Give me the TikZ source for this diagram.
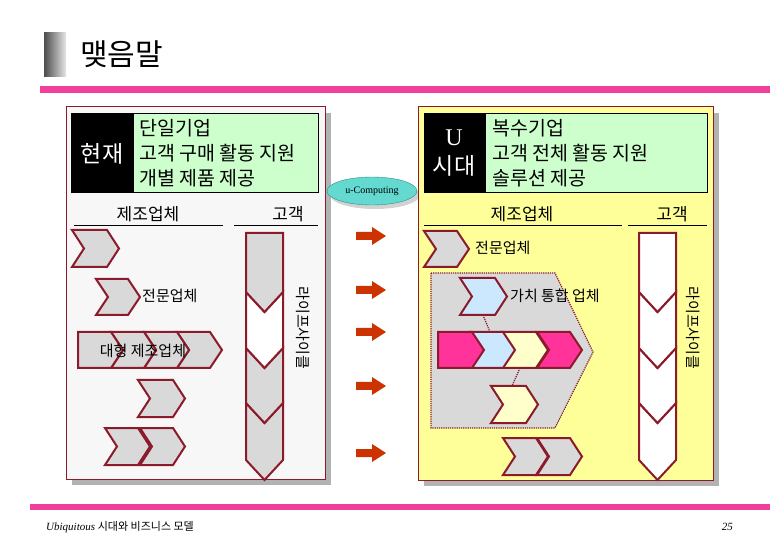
\documentclass[tikz,border=0pt]{standalone}
\usepackage{fontspec}
\setmainfont{Liberation Serif}
\newfontfamily\kr{Noto Sans CJK KR}
\usetikzlibrary{shapes.geometric}
\definecolor{dred}{HTML}{8B1A2B}
\definecolor{chgray}{HTML}{D9D9D9}
\definecolor{pinkline}{HTML}{F0409A}
\definecolor{mint}{HTML}{CCFFCC}
\definecolor{lyel}{HTML}{FFFF99}
\definecolor{cyanel}{HTML}{3CCFC4}
\definecolor{arr}{HTML}{CC3300}
\definecolor{lblue}{HTML}{CCE8FF}
\definecolor{cream}{HTML}{FFFFCC}
\definecolor{hpink}{HTML}{FF3399}
\tikzset{chevst/.style={draw=dred,line width=2pt,line join=miter},
  lbl/.style={font=\kr\fontsize{15}{17}\selectfont,inner sep=0pt},
  hdr/.style={font=\kr\fontsize{17}{19}\selectfont,inner sep=0pt},
  box/.style={font=\kr\fontsize{19.5}{25}\selectfont,align=left,anchor=west,inner sep=0pt},
  blk/.style={font=\kr\fontsize{23}{26}\selectfont,text=white,inner sep=0pt}}
\newcommand\mychev[5]{\fill[#5,chevst] (#1,#2)--({#3-12},#2)--(#3,{(#2+#4)/2})--({#3-12},#4)--(#1,#4)--({#1+12},{(#2+#4)/2})--cycle;}
\newcommand\myflat[5]{\fill[#5,chevst] (#1,#2)--({#3-12},#2)--(#3,{(#2+#4)/2})--({#3-12},#4)--(#1,#4)--cycle;}
\newcommand\myvseg[5]{\fill[#5,chevst] (#1,{#3-20})--({(#1+#2)/2},#3)--(#2,{#3-20})--(#2,{#4-20})--({(#1+#2)/2},#4)--(#1,{#4-20})--cycle;}
\newcommand\myvtop[5]{\fill[#5,chevst] (#1,#3)--(#2,#3)--(#2,{#4-20})--({(#1+#2)/2},#4)--(#1,{#4-20})--cycle;}
\newcommand\myarr[1]{\fill[arr] (356,{#1-4})--(372,{#1-4})--(372,{#1-9})--(386,#1)--(372,{#1+9})--(372,{#1+4})--(356,{#1+4})--cycle;}
\begin{document}
\begin{tikzpicture}[x=1pt,y=-1pt]
\useasboundingbox (0,0) rectangle (780,540);
\shade[left color=black!70,right color=black!10] (44,33) rectangle (66,77);
\node[font=\kr\fontsize{30}{32}\selectfont,anchor=west,inner sep=0pt] (title) at (80,54) {맺음말};
\fill[pinkline] (40,86) rectangle (770,93);
\fill[pinkline] (30,504) rectangle (770,510);
\node[anchor=west,inner sep=0pt,font=\fontsize{11}{12}\selectfont] (foot) at (46,527) {\textit{Ubiquitous} {\kr\itshape 시대와 비즈니스 모델}};
\node[anchor=east,inner sep=0pt,font=\fontsize{11}{12}\selectfont\itshape] (pg) at (733,527) {25};
% left panel
\fill[gray!60] (72,113) rectangle (331,485);
\filldraw[fill=black!3,draw=dred,line width=1pt] (66,107) rectangle (325,479);
\fill[black] (71,113) rectangle (133,192);
\filldraw[fill=mint,draw=black] (133,113) rectangle (318,192);
\draw[black] (71,113) rectangle (318,192);
\node[blk] (now) at (102,154) {현재};
\node[box] (ltxt) at (139,153) {단일기업\\고객 구매 활동 지원\\개별 제품 제공};
\node[hdr] (lh1) at (148,214) {제조업체};
\node[hdr] (lh2) at (288,214) {고객};
\draw[black] (74,225)--(223,225) (234,225)--(318,225);
\mychev{72}{230}{119}{267}{chgray}
\mychev{96}{279}{140}{315}{chgray}
\node[lbl,anchor=west] (l1) at (142,296) {전문업체};
\mychev{177}{332}{222}{368}{chgray}
\mychev{144}{332}{189}{368}{chgray}
\mychev{111}{332}{156}{368}{chgray}
\myflat{78}{332}{123}{368}{chgray}
\node[lbl] (l2) at (143,351) {대형 제조업체};
\mychev{138}{380}{185}{417}{chgray}
\mychev{140}{428}{185}{465}{chgray}
\mychev{105}{428}{150}{465}{chgray}
\myvseg{246}{283}{423}{480}{chgray}
\myvseg{246}{283}{368}{423}{chgray}
\myvseg{246}{283}{312}{368}{white}
\myvtop{246}{283}{233}{312}{chgray}
\node[lbl,rotate=-90] (lc) at (303,328) {라이프사이클};
% middle
\fill[gray!35] (375,195) ellipse (45pt and 14pt);
\node[ellipse,fill=cyanel!80,draw=cyanel!70!black,minimum width=90pt,minimum height=28pt,inner sep=0pt,font=\fontsize{10}{11}\selectfont] (uc) at (372,191) {u-Computing};
\myarr{236}\myarr{290}\myarr{332}\myarr{386}\myarr{453}
% right panel
\fill[gray!60] (424,113) rectangle (719,486);
\filldraw[fill=lyel,draw=dred,line width=1pt] (418,107) rectangle (713,480);
\fill[black] (424,113) rectangle (485,192);
\filldraw[fill=mint,draw=black] (485,113) rectangle (707,192);
\draw[black] (424,113) rectangle (707,192);
\node[font=\fontsize{24}{26}\selectfont,text=white,inner sep=0pt] (u) at (454,138) {U};
\node[blk] (era) at (454,166) {시대};
\node[box] (rtxt) at (492,153) {복수기업\\고객 전체 활동 지원\\솔루션 제공};
\node[hdr] (rh1) at (522,214) {제조업체};
\node[hdr] (rh2) at (672,214) {고객};
\draw[black] (424,225)--(622,225) (628,225)--(707,225);
\mychev{424}{231}{469}{267}{chgray}
\node[lbl,anchor=west] (r1) at (475,248) {전문업체};
\filldraw[fill=chgray,draw=dred,densely dotted,line width=1.2pt] (431,273)--(555,273)--(593,352)--(555,428)--(431,428)--cycle;
\draw[dred,densely dotted,line width=1.2pt] (483,315)--(490,332) (520,368)--(512,386);
\mychev{460}{278}{507}{315}{lblue}
\node[lbl,anchor=west] (r2) at (510,296) {가치 통합 업체};
\mychev{537}{332}{582}{368}{hpink}
\mychev{502}{332}{548}{368}{cream}
\mychev{470}{332}{515}{368}{lblue}
\myflat{438}{332}{484}{368}{hpink}
\mychev{491}{386}{538}{423}{cream}
\mychev{537}{438}{582}{475}{chgray}
\mychev{503}{438}{548}{475}{chgray}
\myvseg{639}{676}{423}{480}{white}
\myvseg{639}{676}{368}{423}{white}
\myvseg{639}{676}{312}{368}{white}
\myvtop{639}{676}{233}{312}{white}
\node[lbl,rotate=-90] (rc) at (693,328) {라이프사이클};
\end{tikzpicture}
\end{document}
